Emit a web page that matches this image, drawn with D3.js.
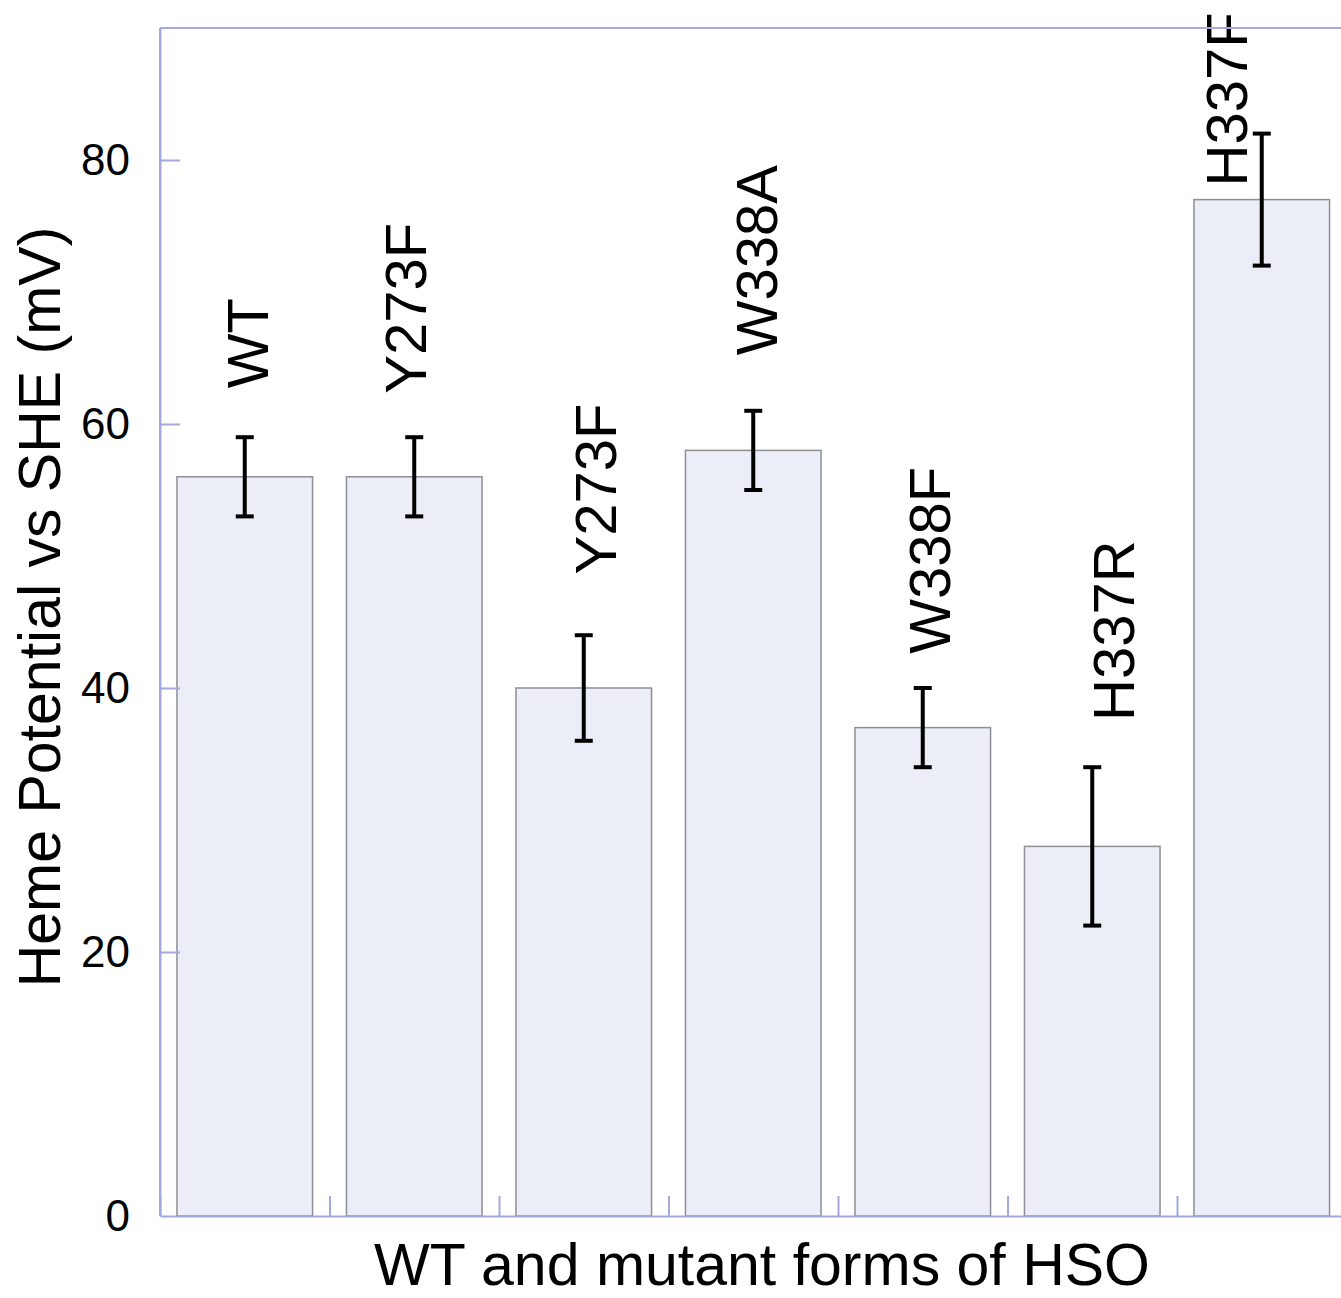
<!DOCTYPE html>
<html>
<head>
<meta charset="utf-8">
<script src="https://cdn.jsdelivr.net/npm/d3@7"></script>
<style>
  body { margin: 0; background: #fff; }
  svg text { font-family: "Liberation Sans", Arial, Helvetica, sans-serif; fill: #000; }
  .axis path, .axis line { stroke: #a3a9dc; stroke-width: 2; }
  .axis text { font-size: 44px; }
  .bar { fill: #eceef7; stroke: #8e8e94; stroke-width: 1.5; }
  .err { stroke: #000; stroke-width: 4; fill: none; }
</style>
</head>
<body>
<div id="chart-area"></div>
<script>

// Data
var mutants  = ["WT", "Y273F", "Y273F", "W338A", "W338F", "H337R", "H337F"];
var potential = [56, 56, 40, 58, 37, 28, 77];     // mV vs SHE
var errors    = [3, 3, 4, 3, 3, 6, 5];            // +/- mV
var yTicks    = [0, 20, 40, 60, 80];

// Where each bar label sits (label layout, not data)
var labelDx = [23, 12, 32, 24, 27, 42, -15];      // baseline offset from bar centre, px
var labelAt = [62.7, 62.3, 48.6, 65.2, 42.6, 37.5, 78.0];  // label start, in mV


// SVG drawing area
var W = 1341, H = 1298;
var plotLeft = 160, plotBottom = 1216, plotTop = 28;
var step = 169.5;

var svg = d3.select("#chart-area").append("svg")
    .attr("width", W)
    .attr("height", H);

var idx = d3.range(mutants.length);

// Scales
var x = d3.scaleBand()
    .domain(idx)
    .range([plotLeft, plotLeft + step * mutants.length])
    .paddingInner(0.2)
    .paddingOuter(0.1);

// linear scale on the band boundaries, for the x ticks
var xb = d3.scaleLinear()
    .domain([0, mutants.length])
    .range([plotLeft, plotLeft + step * mutants.length]);

var y = d3.scaleLinear()
    .domain([0, 90])
    .range([plotBottom, plotTop]);


// Bars
svg.selectAll("rect.bar")
    .data(idx)
  .enter().append("rect")
    .attr("class", "bar")
    .attr("x", function(i) { return x(i); })
    .attr("y", function(i) { return y(potential[i]); })
    .attr("width", x.bandwidth())
    .attr("height", function(i) { return y(0) - y(potential[i]); });

// Error bars
var cap = 9;
var eb = svg.selectAll("g.eb")
    .data(idx)
  .enter().append("g")
    .attr("class", "eb")
    .attr("transform", function(i) { return "translate(" + (x(i) + x.bandwidth() / 2) + ",0)"; });

eb.append("line").attr("class", "err")
    .attr("x1", 0).attr("x2", 0)
    .attr("y1", function(i) { return y(potential[i] + errors[i]); })
    .attr("y2", function(i) { return y(potential[i] - errors[i]); });
eb.append("line").attr("class", "err")
    .attr("x1", -cap).attr("x2", cap)
    .attr("y1", function(i) { return y(potential[i] + errors[i]); })
    .attr("y2", function(i) { return y(potential[i] + errors[i]); });
eb.append("line").attr("class", "err")
    .attr("x1", -cap).attr("x2", cap)
    .attr("y1", function(i) { return y(potential[i] - errors[i]); })
    .attr("y2", function(i) { return y(potential[i] - errors[i]); });

// Bar labels, rotated
svg.selectAll("text.lab")
    .data(idx)
  .enter().append("text")
    .attr("class", "lab")
    .attr("transform", function(i) {
        var cx = x(i) + x.bandwidth() / 2 + labelDx[i];
        return "translate(" + cx + "," + y(labelAt[i]) + ") rotate(-90)";
    })
    .style("font-size", "58px")
    .text(function(i) { return mutants[i]; });


// Axes
var yAxis = d3.axisLeft(y)
    .tickValues(yTicks)
    .tickSize(-20)
    .tickPadding(30)
    .tickSizeOuter(0);

var xAxis = d3.axisBottom(xb)
    .tickValues(d3.range(mutants.length + 1))
    .tickFormat("")
    .tickSize(-20)
    .tickSizeOuter(0);

svg.append("g")
    .attr("class", "axis x-axis")
    .attr("transform", "translate(0," + plotBottom + ")")
    .call(xAxis);

var gy = svg.append("g")
    .attr("class", "axis y-axis")
    .attr("transform", "translate(" + plotLeft + ",0)")
    .call(yAxis);
gy.selectAll(".tick line").filter(function(d) { return d === 0; }).remove();

// frame top
svg.append("line")
    .attr("x1", plotLeft).attr("x2", W)
    .attr("y1", y(90)).attr("y2", y(90))
    .style("stroke", "#a3a9dc").style("stroke-width", 2);
svg.append("line")
    .attr("x1", plotLeft).attr("x2", plotLeft)
    .attr("y1", y(90)).attr("y2", y(0))
    .style("stroke", "#a3a9dc").style("stroke-width", 2);


// Axis titles
svg.append("text")
    .attr("x", 762)
    .attr("y", 1285)
    .attr("text-anchor", "middle")
    .style("font-size", "59px")
    .text("WT and mutant forms of HSO");

svg.append("text")
    .attr("transform", "translate(60,607) rotate(-90)")
    .attr("text-anchor", "middle")
    .style("font-size", "59px")
    .text("Heme Potential vs SHE (mV)");

</script>
</body>
</html>
